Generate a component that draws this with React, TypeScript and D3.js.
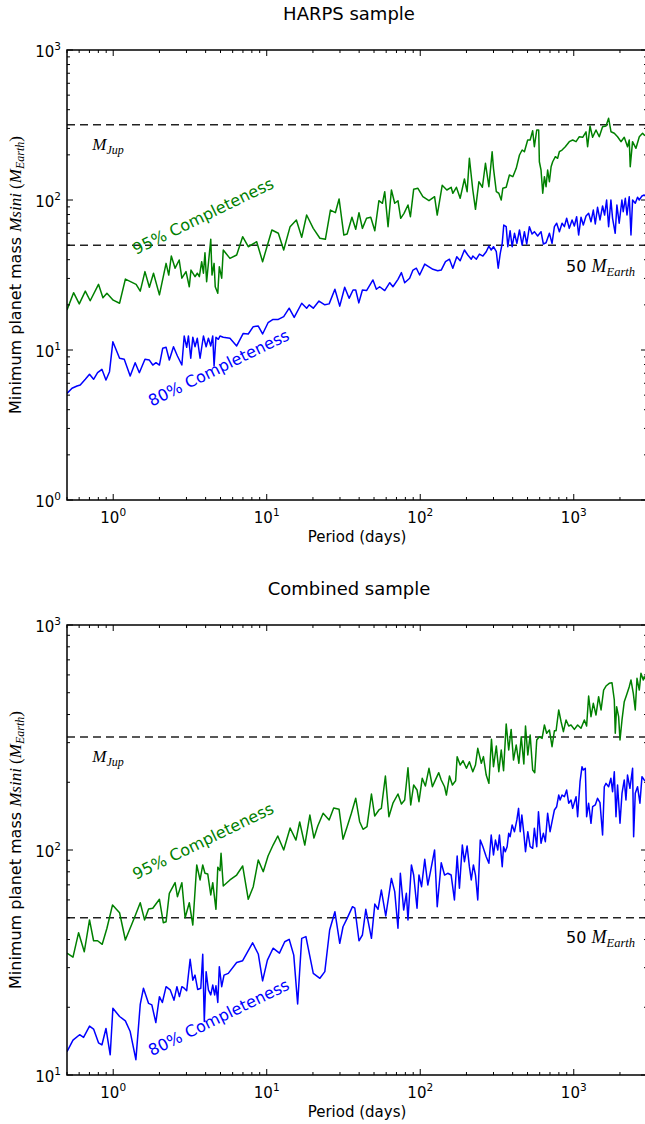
import React from 'react';
import * as d3 from 'd3';

// ---------- data (period in days, minimum mass in Earth masses) ----------
const X_DOMAIN: [number, number] = [0.5, 3000];
const TOP_Y_DOMAIN: [number, number] = [1, 1000];
const BOTTOM_Y_DOMAIN: [number, number] = [10, 1000];
const M_JUP = 317.8;
const M_50 = 50;

const harps95: [number, number][] = [
  [0.5,18.5],[0.552,24.1],[0.601,20.3],[0.658,24.7],[0.708,21.3],[0.802,27.4],[0.857,22.3],[0.91,23.9],[1.0,21.5],[1.1,20.5],
  [1.2,29.7],[1.41,27.4],[1.5,24.7],[1.61,33.3],[1.72,26.2],[1.83,32.5],[2.0,23.3],[2.21,37.8],[2.3,31.6],[2.39,42.3],
  [2.53,35.1],[2.69,39.8],[2.8,30.1],[2.98,33.3],[3.13,26.4],[3.21,34.1],[3.41,30.8],[3.53,32.5],[3.64,30.8],[3.77,38.8],
  [3.87,32.5],[3.96,44.5],[4.06,28.5],[4.19,39.8],[4.32,54.7],[4.4,31.6],[4.54,37.8],[4.62,26.4],[4.8,23.9],[4.91,35.9],
  [5.09,30.1],[5.21,46.4],[5.76,40.8],[6.37,43.0],[6.97,56.9],[7.58,48.8],[8.6,52.7],[9.4,38.8],[10.8,63.1],[11.9,60],
  [12.9,46.4],[14.2,66.4],[15.6,73.6],[16.9,56.4],[18.2,79.4],[20.1,64.7],[22.2,55.6],[24.1,54.7],[26.0,85.7],[28.0,82.3],
  [29.6,101.6],[31.8,58.4],[33.4,59.3],[35.9,76.7],[38.0,63.8],[39.9,82.3],[42.0,64.7],[44.7,75.5],[47.6,76.7],[50.6,62.4],
  [53.8,98.9],[56.7,95.1],[58.7,113.6],[61.7,66.4],[64.9,116.6],[68.2,95.1],[71.6,98.9],[74.6,75.5],[78.4,81.5],[83.2,92.6],
  [86.3,77.4],[90.6,117.8],[96.6,119.7],[104,105.2],[114,98.9],[124,105.2],[129,79.4],[139,125.3],[149,116.6],[159,121.6],
  [163,110.9],[172,121.6],[182,102.6],[194,138],[202,113.6],[209,189.7],[220,116.6],[229,86.7],[241,132.4],[254,121.6],
  [266,175.8],[280,122.7],[294,209.9],[300,162.6],[313,113.6],[325,110.9],[337,100],[345,119.7],[363,121.6],[381,146.8],
  [401,143],[422,162.6],[443,199.5],[461,215.4],[477,209.9],[501,251],[520,251],[540,289.6],[554,226.5],[574,292.9],
  [591,292.9],[597,179.9],[612,158.5],[628,110.9],[644,143],[660,122.7],[676,158.5],[694,132.4],[712,166.7],[729,179.9],
  [759,194.4],[785,189.7],[806,209.9],[839,215.4],[881,226.5],[935,244.8],[984,251],[1035,244.8],[1087,264.2],[1143,261.8],
  [1202,285],[1231,226.5],[1276,311.3],[1327,261.8],[1396,292.9],[1466,264.2],[1541,308.1],[1622,311.3],[1687,350.6],[1749,285],
  [1837,278.4],[1929,264.2],[2030,244.8],[2133,261.8],[2240,226.5],[2299,251],[2333,166.7],[2415,244.8],[2542,221.2],[2673,264.2],
  [2806,278.4],[2877,271],[3000,265],
];

const harps80: [number, number][] = [
  [0.5,5.14],[0.539,5.56],[0.581,5.75],[0.61,5.85],[0.658,6.38],[0.701,6.89],[0.745,6.38],[0.791,7.06],[0.844,7.43],[0.897,6.31],
  [0.946,7.17],[0.995,11.36],[1.1,8.81],[1.18,8.67],[1.29,6.71],[1.39,8.23],[1.48,7.06],[1.61,8.67],[1.72,8.57],[1.81,7.94],
  [1.9,8.23],[2.0,7.94],[2.1,10.26],[2.21,10.42],[2.32,8.57],[2.47,10.52],[2.62,9.12],[2.8,7.94],[2.9,12.4],[3.01,10.42],
  [3.09,12.4],[3.2,8.81],[3.3,12.16],[3.41,10.52],[3.53,11.97],[3.68,8.81],[3.87,12.4],[4.03,10.52],[4.17,11.97],[4.32,10.64],
  [4.45,12.4],[4.54,7.82],[4.67,12.16],[4.84,11.78],[4.96,12.4],[5.21,12.16],[5.76,11.97],[6.37,10.64],[7.03,12.9],[7.58,12.79],
  [8.17,14.3],[8.81,14.45],[9.4,12.79],[10.2,15.2],[11.0,16.0],[11.9,16.0],[12.9,16.7],[14.0,19.0],[15.1,16.5],[16.9,20.5],
  [18.2,19.0],[18.9,20.0],[20.1,19.0],[21.9,21.2],[23.9,20.0],[25.5,20.3],[27.8,25.4],[29.9,19.6],[32.2,26.2],[34.4,22.1],
  [36.5,25.1],[38.0,25.1],[39.8,20.6],[42.0,25.1],[44.7,24.9],[49.2,29.3],[51.8,25.4],[54.4,26.4],[58.7,24.9],[63.3,28.1],
  [66.4,26.4],[71.6,29.6],[75.4,32.8],[79.2,28.1],[85.3,30.1],[89.7,34.1],[94.4,35.1],[99.1,31.6],[107,37.4],[112,36.3],
  [121,34.5],[130,33.8],[137,34.1],[146,38.8],[155,40.3],[163,35.1],[173,41.9],[182,39.4],[194,46.4],[204,43.0],
  [215,40.3],[220,42.3],[232,40.3],[243,43.6],[256,42.3],[269,45.2],[280,49.3],[290,46.4],[300,48.8],[313,45.2],
  [322,35.1],[332,44.1],[342,51.4],[350,68.1],[363,66.4],[372,48.8],[385,62.4],[397,48.8],[411,60.0],[426,51.4],
  [443,63.1],[461,50.1],[477,61.5],[494,50.9],[514,66.4],[535,59.3],[554,61.5],[582,57.5],[612,61.5],[634,50.9],
  [660,51.9],[694,60.0],[722,51.4],[748,66.4],[774,70.0],[806,61.5],[839,70.0],[869,66.4],[899,75.5],[935,64.7],
  [975,73.6],[1009,67.1],[1044,77.4],[1076,58.4],[1115,76.7],[1154,68.1],[1202,78.2],[1250,81.5],[1295,71.6],[1341,85.7],
  [1381,69.2],[1429,89.4],[1482,73.6],[1541,91.2],[1588,79.4],[1637,100],[1687,66.4],[1746,100],[1790,75.5],[1862,60.0],
  [1910,92.6],[1977,70.0],[2059,100],[2100,83.6],[2167,102.6],[2222,79.4],[2299,105.2],[2359,58.4],[2417,100],[2516,95.1],
  [2603,104.3],[2672,100],[2782,106.4],[2877,107.9],[3000,104],
];

const combined95: [number, number][] = [
  [0.5,34.8],[0.547,33.4],[0.595,42.9],[0.648,35.3],[0.701,48.9],[0.745,39.5],[0.791,39.5],[0.848,38.1],[0.91,44.9],[0.99,57.0],
  [1.1,52.6],[1.2,39.8],[1.37,49.7],[1.5,58.3],[1.6,48.9],[1.7,54.7],[1.81,55.1],[2.0,60.4],[2.12,47.5],[2.21,48.0],
  [2.32,64.2],[2.53,71.6],[2.62,62.0],[2.8,71.6],[2.94,50.0],[3.13,58.3],[3.3,46.4],[3.5,85.8],[3.68,73.6],[3.83,85.8],
  [3.96,78.8],[4.13,78.2],[4.32,63.1],[4.45,71.6],[4.67,54.5],[4.8,83.8],[4.96,80.9],[5.04,96.7],[5.21,69.2],[5.76,73.6],
  [6.37,77.4],[6.97,84.9],[7.58,60.4],[8.17,68.7],[8.81,90.3],[9.49,80.1],[10.2,94.0],[11.0,105.2],[11.8,115.4],[12.9,100],
  [14.2,125.3],[15.5,110.7],[16.4,133.2],[17.7,105.2],[19.1,143],[20.3,113],[21.5,127.9],[23.3,145.6],[25.5,136],[27.3,153.7],
  [29.6,151.6],[31.4,111.6],[33.4,126.9],[35.6,145.6],[38.0,169.7],[40.3,133.6],[42.4,123.6],[45.0,126.9],[48.1,177.4],[50.5,141.6],
  [53.8,150.6],[55.8,153.1],[59.3,213.2],[62.5,140.6],[66.4,161.4],[71.6,177.4],[75.4,160.1],[79.2,166.8],[83.2,232.1],[86.7,158.5],
  [90.6,194.5],[95.3,184.8],[98.1,164.0],[103,208.3],[108,192.4],[114,230.7],[120,191.1],[126,206.1],[132,220.6],[137,204.7],
  [144,191.1],[148,175.5],[155,213.2],[162,194.5],[170,203.2],[174,260],[182,238.6],[190,249.4],[200,230.7],[209,246.8],
  [220,222.8],[229,238.6],[237,283.1],[250,242.9],[258,260],[269,215.4],[280,197.8],[291,310.5],[300,234.6],[313,289.7],
  [325,222.8],[337,278.3],[349,225.0],[363,363.1],[377,278.3],[391,343.6],[405,251.2],[422,292.9],[439,242.9],[455,318.8],
  [473,241.2],[485,355.6],[502,264.3],[520,324.4],[540,226.8],[557,220.6],[574,308.2],[597,318.8],[622,313.4],[644,359.4],
  [666,330.2],[694,341.5],[722,287.7],[748,338.8],[767,338.8],[798,419.1],[827,371.6],[856,335.6],[891,378.4],[927,355.6],
  [960,359.4],[1009,343.6],[1060,359.4],[1115,347.5],[1172,378.4],[1213,355.6],[1250,483.3],[1295,391.5],[1341,448.7],[1396,398.1],
  [1452,480.1],[1506,419.1],[1565,514.0],[1622,535.5],[1703,550.5],[1774,554.3],[1837,464.2],[1864,330.2],[1902,433.6],[1960,391.5],
  [2001,308.2],[2062,378.4],[2133,456.2],[2208,488.7],[2299,531.9],[2359,569.6],[2443,497.0],[2516,419.1],[2582,579.5],[2673,514.0],
  [2740,609.8],[2837,569.6],[2877,589.2],[3000,560],
];

const combined80: [number, number][] = [
  [0.5,12.7],[0.547,14.3],[0.604,15.1],[0.641,14.7],[0.701,16.5],[0.745,16.0],[0.802,13.9],[0.844,13.6],[0.897,16.1],[0.956,12.3],
  [0.995,19.8],[1.1,18.2],[1.2,17.4],[1.29,15.6],[1.405,11.7],[1.5,20.6],[1.574,24.3],[1.7,20.8],[1.785,20.5],[1.895,17.1],
  [2.0,22.3],[2.09,21.0],[2.21,24.7],[2.35,23.9],[2.49,21.5],[2.6,24.7],[2.7,22.3],[2.8,24.7],[2.9,24.3],[3.01,23.7],
  [3.17,32.7],[3.3,26.4],[3.41,27.8],[3.55,24.0],[3.72,24.3],[3.83,34.4],[3.92,17.3],[4.03,28.8],[4.17,23.9],[4.32,22.7],
  [4.45,25.1],[4.58,22.7],[4.67,24.9],[4.8,21.0],[4.91,30.3],[5.09,24.7],[5.27,27.8],[5.62,28.3],[6.37,31.6],[6.97,32.2],
  [8.09,38.7],[8.81,34.5],[9.4,26.2],[10.1,32.4],[11.0,36.6],[12.1,34.8],[13.1,39.1],[14.0,40.1],[15.0,34.1],[15.9,20.7],
  [16.9,40.5],[18.0,41.2],[20.1,28.3],[22.2,26.9],[23.9,28.8],[25.7,44.1],[27.8,53.2],[29.9,38.5],[31.4,45.6],[33.4,49.7],
  [36.2,56.0],[37.5,55.1],[39.9,39.5],[42.0,41.9],[44.2,54.5],[48.1,40.5],[50.6,57.5],[53.1,54.5],[55.8,66.4],[59.6,50.9],
  [64.9,74.8],[68.2,65.3],[71.6,44.9],[74.2,78.8],[78.0,54.1],[81.2,64.2],[83.2,48.9],[87.6,85.8],[90.6,77.4],[95.3,55.1],
  [98.1,77.4],[102,68.7],[107,90.9],[112,69.9],[116,78.8],[124,100],[129,56.0],[137,87.8],[144,77.4],[151,78.8],
  [159,77.4],[167,60.0],[174,94.0],[180,67.6],[188,105.2],[194,88.7],[202,104.2],[209,84.3],[215,73.6],[222,85.8],
  [229,77.4],[237,60.0],[246,110.7],[256,103.4],[269,93.4],[280,87.3],[290,116.6],[300,95.0],[309,110.7],[320,100],
  [328,116.6],[342,84.3],[349,103.4],[358,98.3],[368,103.4],[377,118.6],[385,114.6],[397,129.2],[411,120.6],[426,136],
  [437,153.1],[448,120.6],[459,143],[473,118.6],[485,98.3],[502,120.6],[520,103.4],[540,101.8],[554,124.8],[574,103.4],
  [589,148.0],[612,107.1],[634,118.6],[653,108.9],[676,145.6],[701,120.6],[722,133.6],[748,150.6],[774,155.7],[798,175.5],
  [815,166.8],[839,175.5],[869,172.6],[899,184.8],[927,161.4],[960,166.8],[984,153.1],[1035,172.6],[1060,140.6],[1099,201.2],
  [1132,234.6],[1154,226.8],[1189,230.7],[1213,140.6],[1250,161.4],[1295,131.4],[1327,155.7],[1381,158.5],[1429,169.7],[1482,162.3],
  [1541,116.6],[1581,191.1],[1622,197.8],[1687,191.1],[1746,208.3],[1790,181.6],[1837,222.8],[1884,140.6],[1929,194.5],[2001,131.4],
  [2062,178.6],[2133,204.7],[2188,166.8],[2240,215.4],[2322,188.0],[2417,230.7],[2455,114.6],[2516,178.6],[2603,191.1],[2698,161.4],
  [2782,211.8],[2877,204.7],[3000,200],
];

// annotation anchors in data coordinates [period, mass]
const TOP_LABELS = { c95: [1.41, 43], c80: [1.785, 4.19], jup: [0.73, 215], earth: [891, 33.3] };
const BOTTOM_LABELS = { c95: [1.41, 73.6], c80: [1.785, 12.1], jup: [0.73, 246.6], earth: [891, 38.5] };

const SANS = 'DejaVu Sans, sans-serif';
const MATH = 'Liberation Serif, DejaVu Serif, serif';
const GREEN = '#008000';
const BLUE = '#0000ff';

type PanelProps = {
  id: string;
  top: number;
  yDomain: [number, number];
  title: string;
  s95: [number, number][];
  s80: [number, number][];
  labels: typeof TOP_LABELS;
};

function Panel({ id, top, yDomain, title, s95, s80, labels }: PanelProps) {
  const left = 67, right = 647, bottom = top + 450;
  const x = d3.scaleLog().domain(X_DOMAIN).range([left, right]);
  const y = d3.scaleLog().domain(yDomain).range([bottom, top]);
  const line = d3.line<[number, number]>().x(d => x(d[0])).y(d => y(d[1]));
  const isMajor = (v: number) => Math.abs(Math.log10(v) - Math.round(Math.log10(v))) < 1e-9;
  const xt = x.ticks();
  const yt = y.ticks();
  const tickW = 1;
  const angle = -26;
  const [c95x, c95y] = [x(labels.c95[0]), y(labels.c95[1])];
  const [c80x, c80y] = [x(labels.c80[0]), y(labels.c80[1])];
  const [jx, jy] = [x(labels.jup[0]), y(labels.jup[1])];
  const [ex, ey] = [x(labels.earth[0]), y(labels.earth[1])];
  return (
    <g>
      <defs>
        <clipPath id={`clip-${id}`}>
          <rect x={left} y={top} width={right - left} height={bottom - top} />
        </clipPath>
      </defs>
      <text x={349} y={top - 30} textAnchor="middle" fontFamily={SANS} fontSize={18}>{title}</text>
      <g clipPath={`url(#clip-${id})`}>
        {[M_JUP, M_50].map(v => (
          <line key={v} x1={left} x2={right} y1={y(v)} y2={y(v)} stroke="#222" strokeWidth={1.5} strokeDasharray="8,5" />
        ))}
        <path d={line(s95) || ''} fill="none" stroke={GREEN} strokeWidth={1.5} strokeLinejoin="round" />
        <path d={line(s80) || ''} fill="none" stroke={BLUE} strokeWidth={1.5} strokeLinejoin="round" />
      </g>
      {xt.map((t, i) => {
        const L = isMajor(t) ? 6 : 3;
        const px = x(t);
        return (
          <g key={'x' + i} stroke="#000" strokeWidth={tickW}>
            <line x1={px} x2={px} y1={bottom} y2={bottom - L} />
            <line x1={px} x2={px} y1={top} y2={top + L} />
          </g>
        );
      })}
      {yt.map((t, i) => {
        const L = isMajor(t) ? 6 : 3;
        const py = y(t);
        return (
          <g key={'y' + i} stroke="#000" strokeWidth={tickW}>
            <line x1={left} x2={left + L} y1={py} y2={py} />
            <line x1={right} x2={right - L} y1={py} y2={py} />
          </g>
        );
      })}
      <rect x={left} y={top} width={right - left} height={bottom - top} fill="none" stroke="#000" strokeWidth={1.5} />
      {xt.filter(isMajor).map((t, i) => (
        <text key={'xl' + i} x={x(t)} y={bottom + 23} textAnchor="middle" fontFamily={SANS} fontSize={15}>
          10<tspan fontSize={10.5} dy={-7}>{Math.round(Math.log10(t))}</tspan>
        </text>
      ))}
      {yt.filter(isMajor).map((t, i) => (
        <text key={'yl' + i} x={left - 6} y={y(t) + 7} textAnchor="end" fontFamily={SANS} fontSize={15}>
          10<tspan fontSize={10.5} dy={-7}>{Math.round(Math.log10(t))}</tspan>
        </text>
      ))}
      <text x={(left + right) / 2} y={bottom + 42} textAnchor="middle" fontFamily={SANS} fontSize={15}>Period (days)</text>
      <text transform={`translate(21,${(top + bottom) / 2}) rotate(-90)`} textAnchor="middle" fontFamily={SANS} fontSize={16}>
        {'Minimum planet mass '}
        <tspan fontFamily={MATH} fontStyle="italic" fontSize={17}>{'Msini'}</tspan>
        <tspan fontFamily={MATH} fontSize={17}>{' ('}</tspan>
        <tspan fontFamily={MATH} fontStyle="italic" fontSize={17}>M</tspan>
        <tspan fontFamily={MATH} fontStyle="italic" fontSize={12} dy={3}>Earth</tspan>
        <tspan fontFamily={MATH} fontSize={17} dy={-3}>)</tspan>
      </text>
      <text x={jx} y={jy} fontFamily={MATH} fontStyle="italic" fontSize={17} fill="#000">
        M<tspan fontSize={12} dy={4}>Jup</tspan>
      </text>
      <text x={ex} y={ey} fontFamily={SANS} fontSize={16} fill="#000">
        {'50 '}
        <tspan fontFamily={MATH} fontStyle="italic" fontSize={18}>M</tspan>
        <tspan fontFamily={MATH} fontStyle="italic" fontSize={12.5} dy={4}>Earth</tspan>
      </text>
      <text x={c95x} y={c95y} transform={`rotate(${angle},${c95x},${c95y})`} fontFamily={SANS} fontSize={16} fill={GREEN}>95% Completeness</text>
      <text x={c80x} y={c80y} transform={`rotate(${angle},${c80x},${c80y})`} fontFamily={SANS} fontSize={16} fill={BLUE}>80% Completeness</text>
    </g>
  );
}

export default function App() {
  return (
    <div style={{ position: 'absolute', left: 0, top: 0 }}>
      <svg width={645} height={1124} style={{ display: 'block', background: '#fff' }}>
        <rect x={0} y={0} width={645} height={1124} fill="#fff" />
        <Panel id="top" top={50} yDomain={TOP_Y_DOMAIN} title="HARPS sample" s95={harps95} s80={harps80} labels={TOP_LABELS} />
        <Panel id="bottom" top={625} yDomain={BOTTOM_Y_DOMAIN} title="Combined sample" s95={combined95} s80={combined80} labels={BOTTOM_LABELS} />
      </svg>
    </div>
  );
}
